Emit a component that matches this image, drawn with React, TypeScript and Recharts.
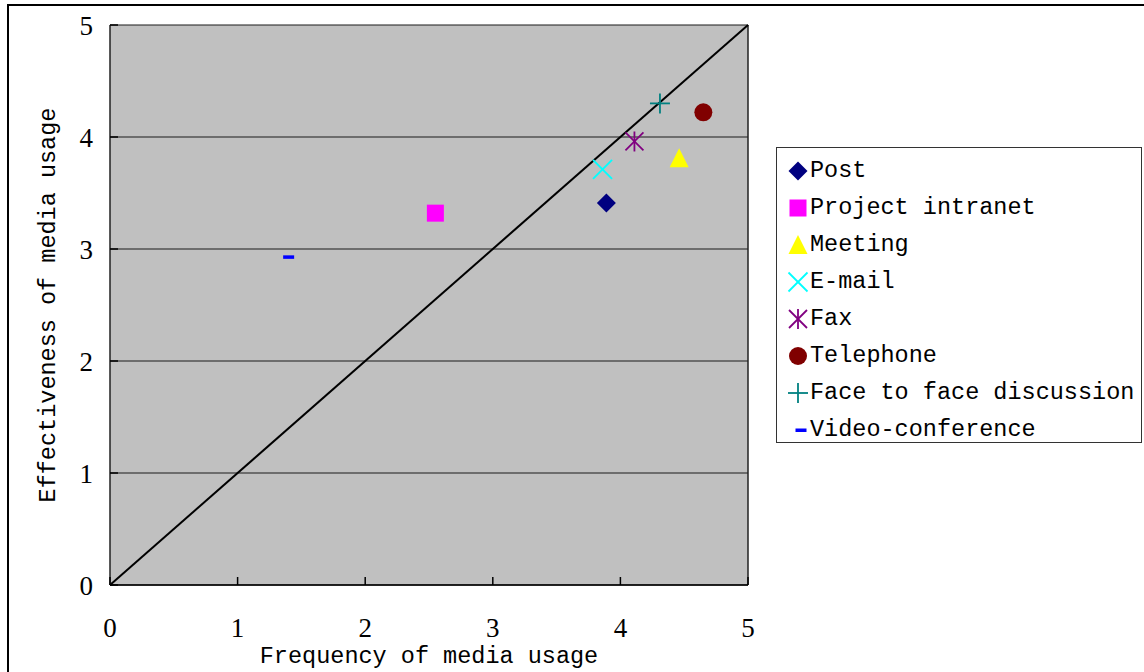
import React from "react";
import {
  CartesianGrid,
  ReferenceLine,
  Scatter,
  ScatterChart,
  XAxis,
  YAxis,
} from "recharts";

// values: frequency (x) vs effectiveness (y)
const postData = [{ x: 3.89, y: 3.41 }];
const intranetData = [{ x: 2.55, y: 3.32 }];
const meetingData = [{ x: 4.46, y: 3.81 }];
const emailData = [{ x: 3.86, y: 3.71 }];
const faxData = [{ x: 4.11, y: 3.96 }];
const telephoneData = [{ x: 4.65, y: 4.22 }];
const faceToFaceData = [{ x: 4.31, y: 4.3 }];
const videoData = [{ x: 1.4, y: 2.93 }];

const axisTicks = [0, 1, 2, 3, 4, 5];
const diagonal = [
  { x: 0, y: 0 },
  { x: 5, y: 5 },
];

const FONT = "'Liberation Mono', 'DejaVu Sans Mono', monospace";
const TICK_FONT = "'Liberation Serif', 'DejaVu Serif', serif";

type Kind = "diamond" | "square" | "triangle" | "x" | "star" | "circle" | "plus" | "dash";

const series: { name: string; color: string; kind: Kind; data: { x: number; y: number }[] }[] = [
  { name: "Post", color: "#000080", kind: "diamond", data: postData },
  { name: "Project intranet", color: "#FF00FF", kind: "square", data: intranetData },
  { name: "Meeting", color: "#FFFF00", kind: "triangle", data: meetingData },
  { name: "E-mail", color: "#00FFFF", kind: "x", data: emailData },
  { name: "Fax", color: "#800080", kind: "star", data: faxData },
  { name: "Telephone", color: "#800000", kind: "circle", data: telephoneData },
  { name: "Face to face discussion", color: "#008080", kind: "plus", data: faceToFaceData },
  { name: "Video-conference", color: "#0000FF", kind: "dash", data: videoData },
];

function marker(kind: Kind, color: string, cx: number, cy: number) {
  switch (kind) {
    case "diamond":
      return <polygon points={`${cx},${cy - 9.5} ${cx + 9.5},${cy} ${cx},${cy + 9.5} ${cx - 9.5},${cy}`} fill={color} />;
    case "square":
      return <rect x={cx - 8.5} y={cy - 8.5} width={17} height={17} fill={color} />;
    case "triangle":
      return <polygon points={`${cx},${cy - 10} ${cx + 9.5},${cy + 9} ${cx - 9.5},${cy + 9}`} fill={color} />;
    case "x":
      return (
        <g stroke={color} strokeWidth={1.8}>
          <line x1={cx - 9.5} y1={cy - 9.5} x2={cx + 9.5} y2={cy + 9.5} />
          <line x1={cx - 9.5} y1={cy + 9.5} x2={cx + 9.5} y2={cy - 9.5} />
        </g>
      );
    case "star":
      return (
        <g stroke={color} strokeWidth={1.8}>
          <line x1={cx - 9} y1={cy - 9} x2={cx + 9} y2={cy + 9} />
          <line x1={cx - 9} y1={cy + 9} x2={cx + 9} y2={cy - 9} />
          <line x1={cx} y1={cy - 10} x2={cx} y2={cy + 10} />
        </g>
      );
    case "circle":
      return <circle cx={cx} cy={cy} r={9} fill={color} />;
    case "plus":
      return (
        <g stroke={color} strokeWidth={1.8}>
          <line x1={cx - 10} y1={cy} x2={cx + 10} y2={cy} />
          <line x1={cx} y1={cy - 10} x2={cx} y2={cy + 10} />
        </g>
      );
    case "dash":
    default:
      return <rect x={cx - 5.5} y={cy - 1.5} width={11} height={3.5} fill={color} />;
  }
}

const XTick = (props: any) => {
  const { x, y, payload } = props;
  return (
    <g>
      <line x1={x} y1={y} x2={x} y2={y - 8} stroke="#000" strokeWidth={1.5} />
      <text x={x} y={y + 43} textAnchor="middle" dominantBaseline="central" fontFamily={TICK_FONT} fontSize={27} fill="#000">
        {payload.value}
      </text>
    </g>
  );
};

const YTick = (props: any) => {
  const { x, y, payload } = props;
  return (
    <g>
      <line x1={x} y1={y} x2={x + 8} y2={y} stroke="#000" strokeWidth={1.5} />
      <text x={x - 17} y={y + 1} textAnchor="end" dominantBaseline="central" fontFamily={TICK_FONT} fontSize={27} fill="#000">
        {payload.value}
      </text>
    </g>
  );
};

const LegendBox = () => (
  <div
    style={{
      position: "absolute",
      left: 776,
      top: 147,
      width: 366,
      height: 296,
      boxSizing: "border-box",
      border: "1px solid #333",
      background: "#fff",
      paddingTop: 4,
    }}
  >
    {series.map((s) => (
      <div key={s.name} style={{ height: 37, display: "flex", alignItems: "center" }}>
        <svg width={32} height={24} style={{ marginLeft: 1, flexShrink: 0 }}>
          {marker(s.kind, s.color, s.kind === "dash" ? 23 : 20, 12)}
        </svg>
        <span style={{ fontFamily: FONT, fontSize: 23.5, color: "#000", whiteSpace: "nowrap" }}>{s.name}</span>
      </div>
    ))}
  </div>
);

const App: React.FC = () => {
  return (
    <div style={{ position: "absolute", left: 0, top: 0, width: 1144, height: 672, overflow: "hidden", background: "#fff" }}>
      <div
        style={{
          position: "absolute",
          left: 7,
          top: 4,
          width: 1180,
          height: 720,
          border: "2px solid #000",
        }}
      />
      <div style={{ position: "absolute", left: 0, top: 0 }}>
        <ScatterChart width={1144} height={672} margin={{ top: 25, right: 396, left: 30, bottom: 27 }}>
          <CartesianGrid vertical={false} fill="#C0C0C0" stroke="#1a1a1a" strokeWidth={1.2} fillOpacity={1} />
          <XAxis
            type="number"
            dataKey="x"
            domain={[0, 5]}
            ticks={axisTicks}
            height={60}
            tickSize={0}
            tickMargin={0}
            tick={<XTick />}
            axisLine={{ stroke: "#000", strokeWidth: 1.5 }}
            label={{
              content: (p: any) => (
                <text
                  x={p.viewBox.x + p.viewBox.width / 2}
                  y={p.viewBox.y + 71}
                  textAnchor="middle"
                  dominantBaseline="central"
                  fontFamily={FONT}
                  fontSize={23.5}
                  fill="#000"
                >
                  Frequency of media usage
                </text>
              ),
            }}
          />
          <YAxis
            type="number"
            dataKey="y"
            domain={[0, 5]}
            ticks={axisTicks}
            width={80}
            tickSize={0}
            tickMargin={0}
            tick={<YTick />}
            axisLine={{ stroke: "#222", strokeWidth: 1.5 }}
            label={{
              content: (p: any) => {
                const cx = p.viewBox.x + 18;
                const cy = p.viewBox.y + p.viewBox.height / 2;
                return (
                  <text
                    x={cx}
                    y={cy}
                    transform={`rotate(-90 ${cx} ${cy})`}
                    textAnchor="middle"
                    dominantBaseline="central"
                    fontFamily={FONT}
                    fontSize={23.5}
                    fill="#000"
                  >
                    Effectiveness of media usage
                  </text>
                );
              },
            }}
          />
          <ReferenceLine x={5} stroke="#222" strokeWidth={1.5} />
          <ReferenceLine segment={diagonal} stroke="#000" strokeWidth={2} />
          {series.map((s) => (
            <Scatter
              key={s.name}
              name={s.name}
              data={s.data}
              fill={s.color}
              isAnimationActive={false}
              shape={(p: any) => marker(s.kind, s.color, p.cx, p.cy)}
            />
          ))}
        </ScatterChart>
      </div>
      <LegendBox />
    </div>
  );
};

export default App;
